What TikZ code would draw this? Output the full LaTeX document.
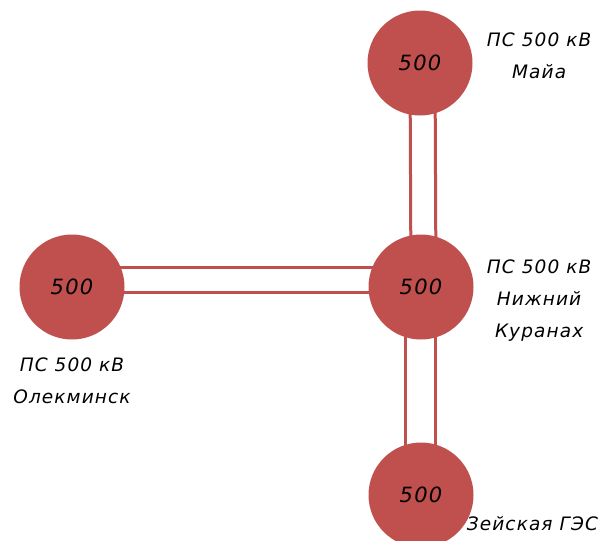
\documentclass[tikz,border=0pt]{standalone}
\usepackage{fontspec}
\newfontfamily\gostfont[LetterSpace=6]{DejaVu Sans}
\usetikzlibrary{positioning,backgrounds}
\definecolor{psred}{HTML}{C0504D}

\begin{document}
\begin{tikzpicture}[x=1pt,y=-1pt,
    ps/.style={circle, fill=psred, minimum size=105pt, inner sep=0pt,
      font=\gostfont\itshape\fontsize{21}{24}\selectfont},
    lbl/.style={align=center, inner sep=0pt,
      font=\gostfont\itshape\fontsize{18.5}{32}\selectfont},
    vl/.style={draw=psred, line width=3pt}]
    \useasboundingbox (0,0) rectangle (606,541);
    \clip (0,0) rectangle (606,541);

    \node[ps] (maya) at (420,63) {500};
    \node[ps] (kuranah) at (421,287) {500};
    \node[ps] (olek) at (72,287) {500};
    \node[ps] (zeya) at (421,495) {500};

    \node[lbl] (mayalbl) [right=14pt of maya, yshift=7pt] {ПС 500 кВ\\Майа};
    \node[lbl] (kuranahlbl) [right=13pt of kuranah, yshift=-14pt] {ПС 500 кВ\\Нижний\\Куранах};
    \node[lbl] (oleklbl) [below=18pt of olek] {ПС 500 кВ\\Олекминск};
    \node[lbl] (zeyalbl) [right=-7pt of zeya, yshift=-29pt] {Зейская ГЭС};

    % двухцепные линии 500 кВ
    \begin{scope}[on background layer]
    \path[vl]
    ([xshift=-10pt]maya.center) edge ([xshift=-10pt]kuranah.center)
    ([xshift=15pt]maya.center) edge ([xshift=15pt]kuranah.center)
    ([xshift=-16pt]kuranah.center) edge ([xshift=-16pt]zeya.center)
    ([xshift=14pt]kuranah.center) edge ([xshift=14pt]zeya.center)
    ([yshift=20pt]olek.center) edge ([yshift=20pt]kuranah.center)
    ([yshift=-5pt]olek.center) edge ([yshift=-5pt]kuranah.center);
    \end{scope}
\end{tikzpicture}
\end{document}
